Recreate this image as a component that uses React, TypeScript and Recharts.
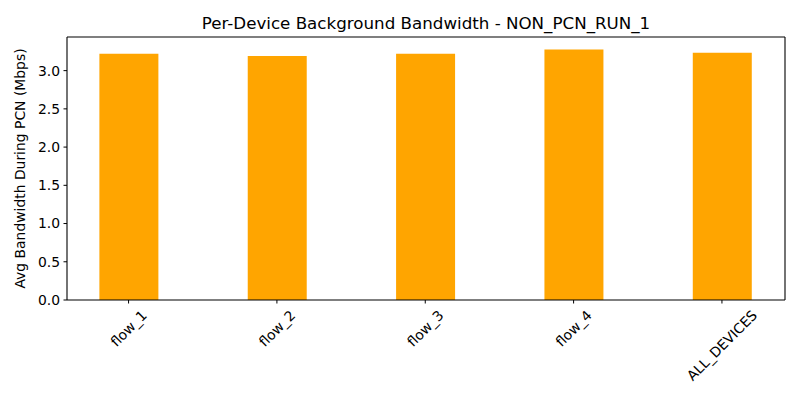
import { BarChart, Bar, XAxis, YAxis, ReferenceLine } from 'recharts';

const categories = ['flow_1', 'flow_2', 'flow_3', 'flow_4', 'ALL_DEVICES'];
const bandwidth = [3.22, 3.19, 3.22, 3.275, 3.233];
const yTicks = [0, 0.5, 1.0, 1.5, 2.0, 2.5, 3.0];
const xTicks = [0, 1, 2, 3, 4];

const FONT = 'DejaVu Sans, sans-serif';
const X_MIN = -0.415;
const X_MAX = 4.425;
const Y_MAX = 3.44;

const data = categories.map((name, i) => ({ idx: i, name, value: bandwidth[i] }));

let ctx: CanvasRenderingContext2D | null = null;
function textWidth(s: string, size: number) {
  if (!ctx) ctx = document.createElement('canvas').getContext('2d');
  if (!ctx) return s.length * size * 0.6;
  ctx.font = `${size}px "DejaVu Sans"`;
  return ctx.measureText(s).width;
}

function RotatedTick(props: { x?: number; y?: number; payload?: { value: number } }) {
  if (props.x == null || props.y == null || !props.payload) return null;
  const label = categories[props.payload.value] ?? '';
  const size = 13.9;
  const w = textWidth(label, size);
  const h = size * 1.15;
  const boxH = (w + h) * Math.SQRT1_2;
  const cx = props.x;
  const cy = props.y + boxH / 2;
  return (
    <text
      x={cx}
      y={cy}
      textAnchor="middle"
      dominantBaseline="central"
      fontSize={size}
      fontFamily={FONT}
      fill="#000"
      transform={`rotate(-45, ${cx}, ${cy})`}
    >
      {label}
    </text>
  );
}

export default function App() {
  return (
    <div style={{ position: 'absolute', left: 0, top: 0, width: 800, height: 400, background: '#fff' }}>
      <div
        style={{
          position: 'absolute',
          left: 67,
          width: 718,
          top: 13,
          textAlign: 'center',
          fontFamily: FONT,
          fontSize: 16.7,
          color: '#000',
        }}
      >
        Per-Device Background Bandwidth - NON_PCN_RUN_1
      </div>
      <BarChart
        width={800}
        height={400}
        data={data}
        margin={{ top: 37, right: 15, bottom: 0, left: 0 }}
      >
        <XAxis
          type="number"
          dataKey="idx"
          domain={[X_MIN, X_MAX]}
          ticks={xTicks}
          allowDataOverflow
          height={100}
          tickSize={3.5}
          tickMargin={3.5}
          stroke="#000"
          tickLine={{ stroke: '#000' }}
          axisLine={{ stroke: '#000', strokeWidth: 1.1 }}
          tick={<RotatedTick />}
          interval={0}
        />
        <YAxis
          type="number"
          domain={[0, Y_MAX]}
          ticks={yTicks}
          allowDataOverflow
          width={67}
          tickSize={3.5}
          tickMargin={3.5}
          stroke="#000"
          axisLine={{ stroke: '#000', strokeWidth: 1.1 }}
          tick={{ fill: '#000', fontSize: 13.9, fontFamily: FONT }}
          tickFormatter={(v: number) => v.toFixed(1)}
          interval={0}
          label={{
            value: 'Avg Bandwidth During PCN (Mbps)',
            angle: -90,
            position: 'insideLeft',
            offset: 0,
            dx: 20,
            style: { textAnchor: 'middle', fill: '#000', fontSize: 13.9, fontFamily: FONT },
          }}
        />
        <ReferenceLine y={Y_MAX} stroke="#000" strokeWidth={1.1} />
        <ReferenceLine x={X_MAX} stroke="#000" strokeWidth={1.1} />
        <Bar dataKey="value" fill="#FFA500" barSize={59} isAnimationActive={false} />
      </BarChart>
    </div>
  );
}
